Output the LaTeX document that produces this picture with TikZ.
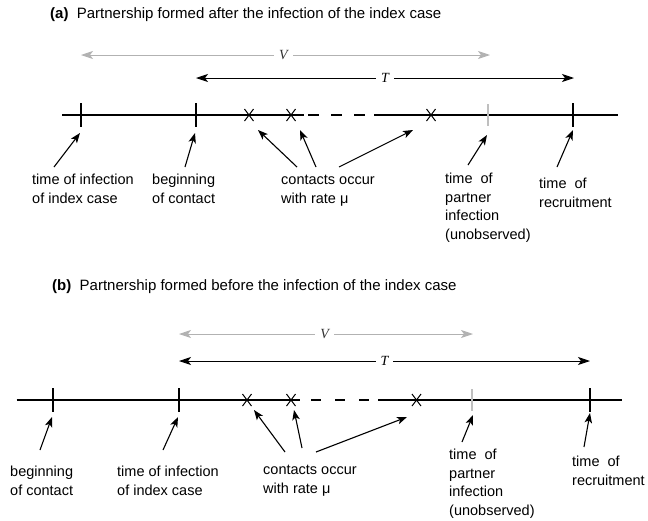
\documentclass[tikz,border=0pt]{standalone}
\usepackage{fontspec}
\setmainfont{Liberation Sans}
\newfontfamily\spanfont{Liberation Serif}
\usetikzlibrary{arrows.meta}

\begin{document}
\begin{tikzpicture}[x=1pt, y=-1pt,
    axisline/.style={line width=1.8pt},
    tickmark/.style={line width=1.8pt},
    graytick/.style={line width=1.8pt, draw=black!25},
    crossmark/.style={line width=1pt},
    pointer/.style={line width=1.1pt, -{Stealth[length=10pt, width=7.5pt, inset=2.5pt]}},
    span/.style={line width=0.9pt, {Stealth[length=12pt, width=8pt, inset=3pt]}-{Stealth[length=12pt, width=8pt, inset=3pt]}},
    grayspan/.style={span, draw=black!30},
    spanlab/.style={fill=white, inner xsep=5pt, inner ysep=1pt, font=\fontsize{14}{16}\spanfont\itshape},
    lab/.style={anchor=base west, inner sep=0pt, align=left, font=\fontsize{14.5}{18.5}\selectfont},
    ttl/.style={anchor=base west, inner sep=0pt, font=\fontsize{15}{18}\selectfont}]
  \useasboundingbox (0,0) rectangle (648,520);

  % (a) partnership formed after the infection
  \node[ttl] (ttl-a) at (50,18) {\textbf{(a)}\ \ Partnership formed after the infection of the index case};
  \coordinate (a-v0) at (81,55);  \coordinate (a-v1) at (490,55);
  \coordinate (a-t0) at (196,78);   \coordinate (a-t1) at (574,78);
  \draw[grayspan] (a-v0) -- (a-v1) node[spanlab, text=black!80, pos=.495] (a-V) {V};
  \draw[span] (a-t0) -- (a-t1) node[spanlab, midway] (a-T) {T};
  \draw[axisline] (62,115) -- (304,115) (374,115) -- (618,115);
  \draw[axisline, dash pattern=on 11pt off 12pt] (308,115) -- (370,115);
  \foreach \x in {81,196,573}
    \draw[tickmark] (\x,103) -- (\x,127);
  \draw[graytick] (488,104) -- (488,126);
  \foreach \x in {249,291,431}
    \draw[crossmark] (\x-4.5,109) -- (\x+4.5,121) (\x-4.5,121) -- (\x+4.5,109);
  \foreach \n/\sx/\sy/\tx/\ty in {1/54/167/80/133, 2/185/167/195/133, 3/297/167/258/130,
      4/316/167/300/130, 5/339/167/413/130, 6/468/165/487/135, 7/557/167/573/130} {
    \coordinate (a-tail-\n) at (\sx,\sy);
    \coordinate (a-tip-\n) at (\tx,\ty);
    \draw[pointer] (a-tail-\n) -- (a-tip-\n);
  }
  % labels sit on the baseline of their last line
  \node[lab] (a-lab-1) at (32,203) {time of infection\\of index case};
  \node[lab] (a-lab-2) at (152,203) {beginning\\of contact};
  \node[lab] (a-lab-3) at (281,203) {contacts occur\\with rate μ};
  \node[lab] (a-lab-4) at (445,239) {time\ \ of\\partner\\infection\\(unobserved)};
  \node[lab] (a-lab-5) at (539,207) {time\ \ of\\recruitment};

  % (b) partnership formed before the infection
  \node[ttl] (ttl-b) at (52,290) {\textbf{(b)}\ \ Partnership formed before the infection of the index case};
  \coordinate (b-v0) at (179,334);  \coordinate (b-v1) at (473,334);
  \coordinate (b-t0) at (179,361);  \coordinate (b-t1) at (590,361);
  \draw[grayspan] (b-v0) -- (b-v1) node[spanlab, text=black!80, pos=.495] (b-V) {V};
  \draw[span] (b-t0) -- (b-t1) node[spanlab, midway] (b-T) {T};
  \draw[axisline] (16.5,400) -- (300,400) (378,400) -- (622,400);
  \draw[axisline, dash pattern=on 10pt off 14pt] (311,400) -- (372,400);
  \foreach \x in {53,179,590}
    \draw[tickmark] (\x,388) -- (\x,412);
  \draw[graytick] (472,389) -- (472,411);
  \foreach \x in {247,291,416.5}
    \draw[crossmark] (\x-4.5,394) -- (\x+4.5,406) (\x-4.5,406) -- (\x+4.5,394);
  \foreach \n/\sx/\sy/\tx/\ty in {1/40/450/52/417, 2/163/450/178/417, 3/285/452/254/410,
      4/302/448/294/410, 5/316/452/407/417, 6/462/442/473/415, 7/584/447/590/413} {
    \coordinate (b-tail-\n) at (\sx,\sy);
    \coordinate (b-tip-\n) at (\tx,\ty);
    \draw[pointer] (b-tail-\n) -- (b-tip-\n);
  }
  \node[lab] (b-lab-1) at (10,495) {beginning\\of contact};
  \node[lab] (b-lab-2) at (117,495) {time of infection\\of index case};
  \node[lab] (b-lab-3) at (263,493) {contacts occur\\with rate μ};
  \node[lab] (b-lab-4) at (449,515) {time\ \ of\\partner\\infection\\(unobserved)};
  \node[lab] (b-lab-5) at (572,485) {time\ \ of\\recruitment};
\end{tikzpicture}
\end{document}
